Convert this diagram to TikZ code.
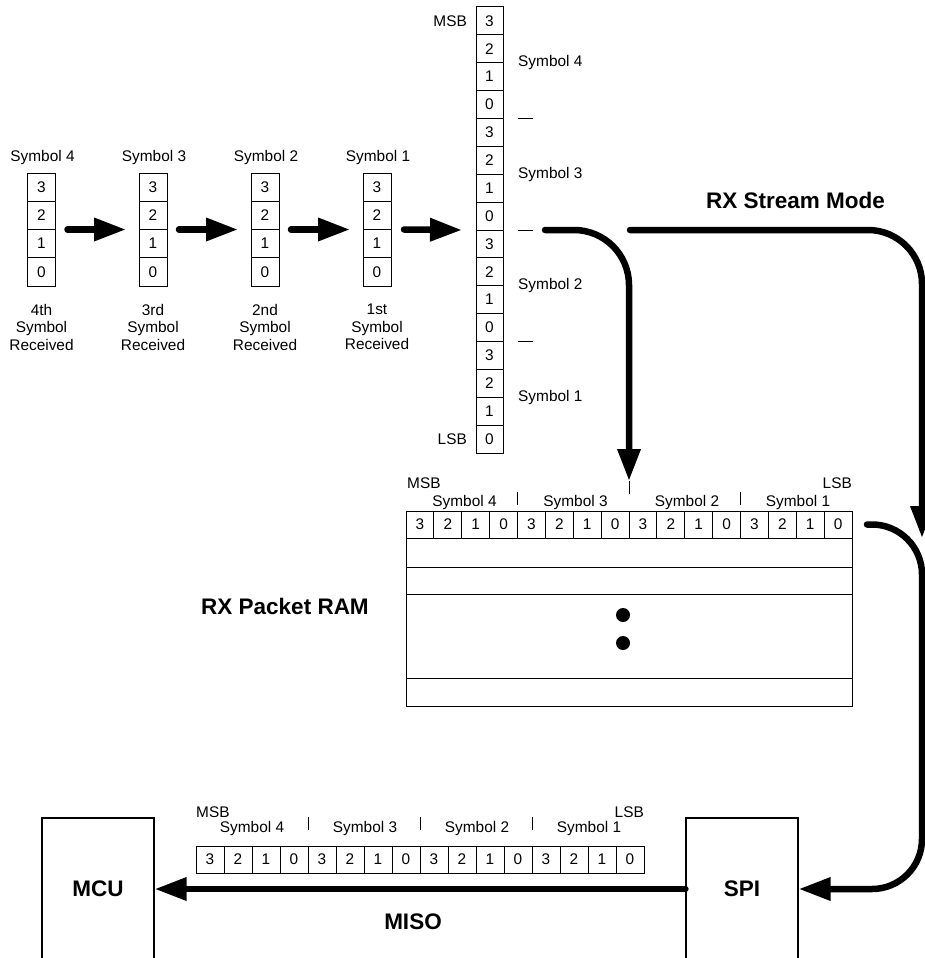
\documentclass[tikz,border=0pt]{standalone}
\usepackage{fontspec}
\setmainfont{Liberation Sans}
\usetikzlibrary{arrows.meta,positioning}

\begin{document}
\begin{tikzpicture}[
        x=1pt, y=-1pt,
        texto/.style={inner sep=0pt, align=center, font=\fontsize{15.4}{17.5}\selectfont},
        titulo/.style={inner sep=0pt, font=\fontsize{22.5}{27}\selectfont\bfseries},
        celda/.style={draw, line width=1pt, inner sep=0pt, outer sep=0pt, minimum width=28pt, minimum height=28pt, font=\fontsize{15.4}{17.5}\selectfont},
        fila/.style={draw, line width=1pt, inner sep=0pt, outer sep=0pt, minimum width=446pt},
        bloque/.style={draw, line width=1.2pt, inner sep=0pt, minimum width=112pt, minimum height=142pt, font=\fontsize{22.5}{27}\selectfont\bfseries},
        flecha/.style={-{Triangle[length=32pt, width=22pt]}, line width=6.5pt, line cap=round},
        marca/.style={line width=1pt}
    ]
        \useasboundingbox (0,0) rectangle (925,958);
        \clip (0,0) rectangle (925,958);

        \foreach \s/\x/\orden in {4/41.5/4th, 3/153/3rd, 2/265/2nd, 1/377/1st} {
            \node[texto] (nom\s) at (\x+1, 158) {Symbol \s};
            \foreach \b [count=\i] in {3,2,1,0}
                \node[celda, minimum height=28.25pt] (s\s b\b) at (\x, 158.875+\i*28.25) {\b};
            \node[texto] (rec\s) at (\x, 327) {\orden\\Symbol\\Received};
        }

        \foreach \b [count=\i] in {3,2,1,0,3,2,1,0,3,2,1,0,3,2,1,0}
            \node[celda, minimum width=27pt, minimum height=27.875pt] (col\i) at (489.5, \i*27.875-6.9375) {\b};
        \node[texto, anchor=east] (msb) at ([xshift=-9pt]col1.west) {MSB};
        \node[texto, anchor=east] (lsb) at ([xshift=-9pt]col16.west) {LSB};
        \foreach \s/\c in {4/2, 3/6, 2/10, 1/14}
            \node[texto, anchor=west] (grupo\s) at ([xshift=15pt]col\c.south east) {Symbol \s};
        \foreach \c in {4, 8, 12}
            \draw[marca] ([xshift=15pt]col\c.south east) -- ++(15,0);

        \foreach \a/\b in {4/3, 3/2, 2/1}
            \draw[flecha] ([xshift=12pt]s\a b2.south east) -- ([xshift=-13pt]s\b b2.south west);
        \draw[flecha] ([xshift=13pt]s1b2.south east) -- ([xshift=-14pt]col8.south west);

        \node[titulo] (stream) at (795.5, 200) {RX Stream Mode};
        \node[titulo] (ram) at (285, 606) {RX Packet RAM};

        \foreach \b [count=\i] in {3,2,1,0,3,2,1,0,3,2,1,0,3,2,1,0}
            \node[celda, minimum width=27.875pt, minimum height=27pt] (ram\i) at (392.0625+\i*27.875, 524.5) {\b};
        \node[fila, minimum height=29pt, anchor=north west] (fila2) at (ram1.south west) {};
        \node[fila, minimum height=27pt, below=0pt of fila2] (fila3) {};
        \node[fila, minimum height=84pt, below=0pt of fila3] (fila4) {};
        \node[fila, minimum height=28pt, below=0pt of fila4] (fila5) {};
        \fill (623, 615) circle[radius=7pt];
        \fill (623, 643) circle[radius=7pt];

        \node[texto, anchor=west] (msbram) at (407, 483) {MSB};
        \node[texto, anchor=east] (lsbram) at (852, 483) {LSB};
        \foreach \s/\x in {4/464.5, 3/575.5, 2/687, 1/798}
            \node[texto] (simram\s) at (\x, 503) {Symbol \s};
        \draw[marca] (517.5,492) -- (517.5,505);
        \draw[marca] (629,481) -- (629,494);
        \draw[marca] (740.5,492) -- (740.5,505);

        \coordinate (inicioA) at (545, 230);
        \coordinate (puntaA) at (629, 481);
        \draw[flecha, rounded corners=55pt] (inicioA) -- (inicioA -| puntaA) -- (puntaA);
        \coordinate (inicioB) at (630, 230);
        \coordinate (puntaB) at (922, 538);
        \draw[flecha, rounded corners=54pt] (inicioB) -- (inicioB -| puntaB) -- (puntaB);

        \node[bloque] (mcu) at (98, 889) {MCU};
        \node[bloque] (spi) at (742, 889) {SPI};
        \coordinate (esquina) at (922, 889);
        \draw[flecha, rounded corners=50pt] ([xshift=15pt]ram16.east) -| (esquina) -- (spi.east);
        \draw[flecha] (spi.west) -- (mcu.east);
        \node[titulo] (miso) at (413, 922) {MISO};

        \foreach \b [count=\i] in {3,2,1,0,3,2,1,0,3,2,1,0,3,2,1,0}
            \node[celda, minimum height=27pt] (bus\i) at (182+\i*28, 859.5) {\b};
        \node[texto, anchor=west] (msbbus) at (196, 812) {MSB};
        \node[texto, anchor=east] (lsbbus) at (644, 812) {LSB};
        \foreach \s/\x in {4/252, 3/365, 2/477, 1/589}
            \node[texto] (simbus\s) at (\x, 829) {Symbol \s};
        \foreach \x in {308, 420, 532}
            \draw[marca] (\x,817) -- (\x,830);
\end{tikzpicture}
\end{document}
